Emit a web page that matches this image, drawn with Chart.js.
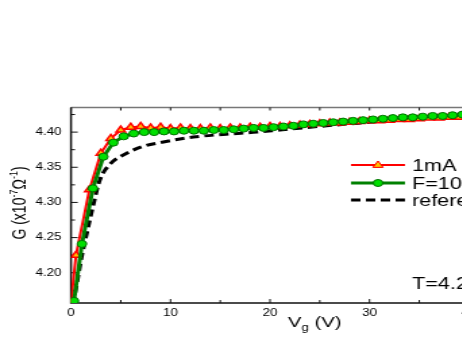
<!DOCTYPE html>
<html>
<head>
<meta charset="utf-8">
<script src="https://cdn.jsdelivr.net/npm/chart.js@4.4.1/dist/chart.umd.min.js"></script>
<style>
  html, body { margin: 0; padding: 0; background: #fff; overflow: hidden; }
  #page { width: 462px; height: 338px; overflow: hidden; position: relative; }
  /* the original picture is stretched sideways, so the chart is too */
  #box { position: absolute; left: 0; top: 0; width: 360px; height: 338px; transform: scaleX(1.35); transform-origin: 0 0; }
</style>
</head>
<body>
<div id="page"><div id="box"><canvas id="myChart"></canvas></div></div>
<script>
// tick values
const xTicks = [0, 5, 10, 15, 20, 25, 30, 35, 40];
const yTicks = [4.175, 4.2, 4.225, 4.25, 4.275, 4.3, 4.325, 4.35, 4.375, 4.4, 4.425];

// series: 1mA (red triangles)
const currentV = [0, 0.5, 1.85, 3, 4, 5, 6, 7, 8, 9, 10, 11, 12, 13, 14, 15, 16, 17, 18, 19, 20,
  21, 22, 23, 24, 25, 26, 27, 28, 29, 30, 31, 32, 33, 34, 35, 36, 37, 38, 39, 40];
const currentG = [4.158, 4.225, 4.318, 4.370, 4.391, 4.403, 4.407, 4.408, 4.406, 4.407, 4.405,
  4.406, 4.405, 4.405, 4.406, 4.405, 4.406, 4.406, 4.407, 4.407, 4.408,
  4.408, 4.409, 4.410, 4.411, 4.412, 4.413, 4.413, 4.414, 4.415, 4.416,
  4.416, 4.417, 4.418, 4.418, 4.419, 4.420, 4.420, 4.421, 4.421, 4.422];

// series: F=10Hz (green circles)
const freqV = [0.3, 1.1, 2.2, 3.25, 4.25, 5.3, 6.3, 7.35, 8.35, 9.35, 10.35, 11.35, 12.35, 13.35,
  14.35, 15.35, 16.35, 17.35, 18.35, 19.35, 20.35, 21.35, 22.35, 23.35, 24.35, 25.35, 26.35,
  27.35, 28.35, 29.35, 30.35, 31.35, 32.35, 33.35, 34.35, 35.35, 36.35, 37.35, 38.35, 39.35];
const freqG = [4.160, 4.241, 4.320, 4.365, 4.385, 4.394, 4.398, 4.400, 4.400, 4.401, 4.401,
  4.402, 4.402, 4.402, 4.403, 4.403, 4.404, 4.405, 4.406, 4.406, 4.407, 4.408, 4.409, 4.411,
  4.412, 4.413, 4.414, 4.415, 4.416, 4.417, 4.418, 4.419, 4.420, 4.421, 4.421, 4.422, 4.423,
  4.423, 4.424, 4.425];

// series: reference (dashed)
const refV = [0, 0.25, 1.08, 1.6, 2.25, 2.9, 3.9, 5.6, 7.3, 8.9, 12.3, 15.6, 18.7, 21, 25.7, 30, 35, 40];
const refG = [4.157, 4.162, 4.2235, 4.257, 4.297, 4.332, 4.354, 4.370, 4.380, 4.385, 4.393,
  4.397, 4.400, 4.403, 4.409, 4.414, 4.419, 4.422];

const STRETCH = 1.35;
const FONT = "'Liberation Sans', Arial, sans-serif";

function toPoints(xs, ys) {
  return xs.map((x, i) => ({ x: x, y: ys[i] }));
}

// draw a line of text with sub/superscript pieces, centred on (cx, cy)
function drawRich(ctx, parts, cx, cy, angle, align) {
  ctx.save();
  ctx.translate(cx, cy);
  ctx.rotate(angle);
  ctx.textBaseline = "alphabetic";
  ctx.textAlign = "left";
  let total = 0;
  parts.forEach((p) => {
    ctx.font = `${p.size}px ${FONT}`;
    total += ctx.measureText(p.t).width;
  });
  let x = align === "left" ? 0 : -total / 2;
  parts.forEach((p) => {
    ctx.font = `${p.size}px ${FONT}`;
    ctx.fillText(p.t, x, p.dy || 0);
    x += ctx.measureText(p.t).width;
  });
  ctx.restore();
}

function drawTriangle(ctx, x, y, r) {
  ctx.beginPath();
  ctx.moveTo(x, y - r);
  ctx.lineTo(x + r * 0.95, y + r * 0.6);
  ctx.lineTo(x - r * 0.95, y + r * 0.6);
  ctx.closePath();
  ctx.fill();
  ctx.stroke();
}

// frame with inward ticks
const framePlugin = {
  id: "frame",
  beforeDatasetsDraw(chart) {
    const ctx = chart.ctx;
    const area = chart.chartArea;
    const xs = chart.scales.x;
    const ys = chart.scales.y;
    ctx.save();
    ctx.strokeStyle = "#777";
    ctx.lineWidth = 1.5;
    ctx.beginPath();
    ctx.moveTo(area.left, area.top);
    ctx.lineTo(area.right, area.top);
    ctx.stroke();
    ctx.strokeStyle = "#111";
    ctx.beginPath();
    ctx.moveTo(area.left, area.top);
    ctx.lineTo(area.left, area.bottom);
    ctx.lineTo(area.right, area.bottom);
    ctx.lineTo(area.right, area.top);
    ctx.stroke();

    ctx.lineWidth = 1;
    xTicks.forEach((v) => {
      const px = xs.getPixelForValue(v);
      const len = v % 10 === 0 ? 4 : 3;
      ctx.beginPath();
      ctx.moveTo(px, area.bottom);
      ctx.lineTo(px, area.bottom - len);
      ctx.moveTo(px, area.top);
      ctx.lineTo(px, area.top + 3);
      ctx.stroke();
    });
    yTicks.forEach((v) => {
      const py = ys.getPixelForValue(v);
      const len = Math.round(v * 1000) % 50 === 0 ? 5 : 3;
      ctx.beginPath();
      ctx.moveTo(area.left, py);
      ctx.lineTo(area.left + len, py);
      ctx.stroke();
    });
    ctx.restore();
  },
  afterDraw(chart) {
    const ctx = chart.ctx;
    ctx.save();
    ctx.fillStyle = "#000";

    // axis titles
    drawRich(ctx, [
      { t: "G (x10", size: 14 },
      { t: "-7", size: 9, dy: -6 },
      { t: "\u03A9", size: 14 },
      { t: "-1", size: 9, dy: -6 },
      { t: ")", size: 14 }
    ], 19, 203, -Math.PI / 2);
    drawRich(ctx, [
      { t: "V", size: 15 },
      { t: "g", size: 10, dy: 4 },
      { t: " (V)", size: 15 }
    ], 288 / STRETCH, 327, 0, "left");

    // temperature note
    drawRich(ctx, [{ t: "T=4.2K", size: 16 }], 412 / STRETCH, 289, 0, "left");

    // legend
    const rows = [
      { ds: chart.data.datasets[0], y: 165 },
      { ds: chart.data.datasets[1], y: 183 },
      { ds: chart.data.datasets[2], y: 200 }
    ];
    const x0 = 351 / STRETCH;
    const x1 = 405 / STRETCH;
    rows.forEach((row) => {
      const ds = row.ds;
      ctx.strokeStyle = ds.borderColor;
      ctx.lineWidth = ds.borderWidth;
      ctx.setLineDash(ds.borderDash || []);
      ctx.beginPath();
      ctx.moveTo(x0, row.y);
      ctx.lineTo(x1, row.y);
      ctx.stroke();
      ctx.setLineDash([]);
      ctx.lineWidth = 1;
      const mx = (x0 + x1) / 2;
      if (ds.pointStyle === "triangle") {
        ctx.fillStyle = ds.pointBackgroundColor;
        ctx.strokeStyle = ds.pointBorderColor;
        drawTriangle(ctx, mx, row.y, 4);
      } else if (ds.pointStyle === "circle") {
        ctx.fillStyle = ds.pointBackgroundColor;
        ctx.strokeStyle = ds.pointBorderColor;
        ctx.beginPath();
        ctx.arc(mx, row.y, 3.5, 0, Math.PI * 2);
        ctx.fill();
        ctx.stroke();
      }
      ctx.fillStyle = "#000";
      drawRich(ctx, [{ t: ds.label, size: 16 }], 412 / STRETCH, row.y + 6, 0, "left");
    });
    ctx.restore();
  }
};

const ctx = document.getElementById("myChart");

const myChart = new Chart(ctx, {
  type: "scatter",
  data: {
    datasets: [
      {
        label: "1mA",
        data: toPoints(currentV, currentG),
        showLine: true,
        borderColor: "#ff0000",
        borderWidth: 2,
        pointStyle: "triangle",
        pointRadius: 4,
        pointBackgroundColor: "#ffc000",
        pointBorderColor: "#ff0000",
        pointBorderWidth: 1.5,
        order: 2
      },
      {
        label: "F=10Hz",
        data: toPoints(freqV, freqG),
        showLine: true,
        borderColor: "#008000",
        borderWidth: 3,
        pointStyle: "circle",
        pointRadius: 3.5,
        pointBackgroundColor: "#00e000",
        pointBorderColor: "#007000",
        pointBorderWidth: 1,
        order: 1
      },
      {
        label: "reference",
        data: toPoints(refV, refG),
        showLine: true,
        borderColor: "#000000",
        borderWidth: 3,
        borderDash: [7, 4],
        pointRadius: 0,
        cubicInterpolationMode: "monotone",
        order: 3
      }
    ]
  },
  options: {
    responsive: true,
    maintainAspectRatio: false,
    animation: false,
    layout: {
      padding: { left: 0, top: 107.5, right: 360 - 469 / STRETCH, bottom: 0 }
    },
    plugins: {
      legend: { display: false },
      tooltip: { enabled: false }
    },
    scales: {
      x: {
        type: "linear",
        min: 0,
        max: 40,
        grid: { display: false, drawTicks: false },
        border: { display: false },
        afterBuildTicks: (scale) => {
          scale.ticks = xTicks.map((v) => ({ value: v }));
        },
        afterFit: (scale) => {
          scale.height = 35;
        },
        ticks: {
          autoSkip: false,
          maxRotation: 0,
          padding: 4,
          color: "#000",
          font: { family: FONT, size: 10 },
          callback: (v) => (v % 10 === 0 ? String(v) : "")
        }
      },
      y: {
        type: "linear",
        min: 4.157,
        max: 4.435,
        grid: { display: false, drawTicks: false },
        border: { display: false },
        afterBuildTicks: (scale) => {
          scale.ticks = yTicks.map((v) => ({ value: v }));
        },
        afterFit: (scale) => {
          scale.width = 71 / STRETCH;
        },
        ticks: {
          autoSkip: false,
          padding: 7,
          color: "#000",
          font: { family: FONT, size: 10 },
          callback: (v) => (Math.round(v * 1000) % 50 === 0 ? v.toFixed(2) : "")
        }
      }
    }
  },
  plugins: [framePlugin]
});
</script>
</body>
</html>
